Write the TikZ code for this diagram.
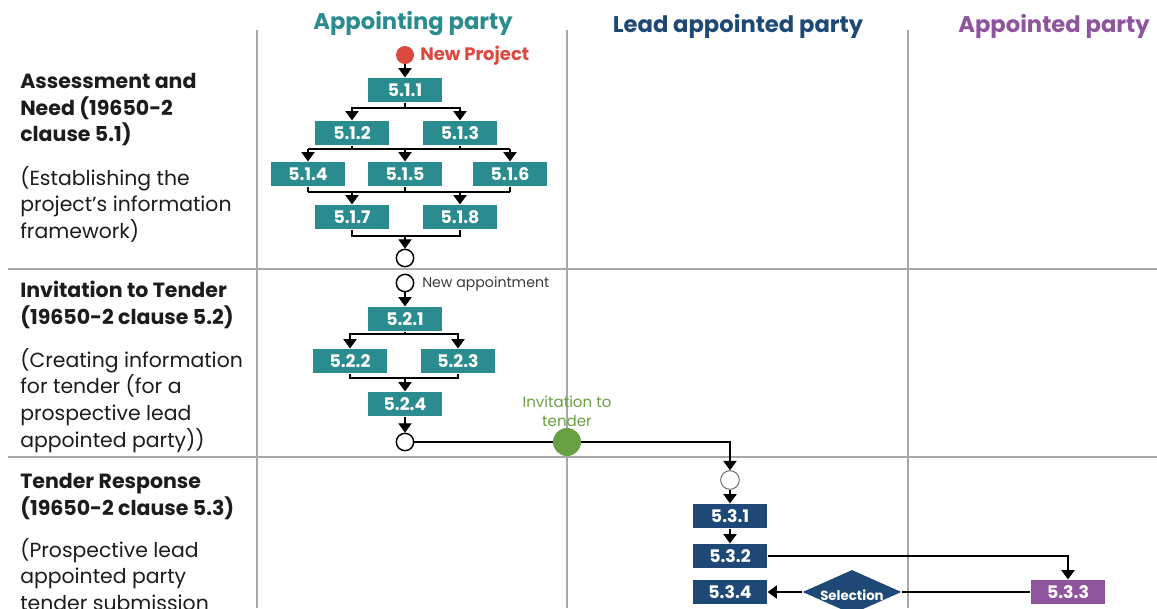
\documentclass[tikz,border=0pt]{standalone}
\usepackage{fontspec}
\setmainfont{Poppins}
\usetikzlibrary{arrows.meta,shapes.geometric}
\definecolor{teal1}{HTML}{2B8C90}
\definecolor{navy1}{HTML}{1E4976}
\definecolor{purp1}{HTML}{8F549E}
\definecolor{red1}{HTML}{DA4A3E}
\definecolor{green1}{HTML}{69A044}
\definecolor{grid1}{HTML}{A8A8A8}
\definecolor{txt1}{HTML}{1C1C1C}
\definecolor{txt2}{HTML}{3A3A3A}
\begin{document}
\begin{tikzpicture}[x=0.75pt,y=-0.75pt,
 box/.style={rectangle, minimum width=56pt, minimum height=18.5pt, inner sep=0pt, text=white, font=\bfseries\fontsize{13}{14}\selectfont},
 tbox/.style={box, fill=teal1},
 nbox/.style={box, fill=navy1},
 pbox/.style={box, fill=purp1},
 endc/.style={circle, draw=black, fill=white, line width=1.1pt, minimum size=13pt, inner sep=0pt},
 arr/.style={-{Triangle[width=10pt,length=7pt]}, line width=0.8pt},
 conn/.style={line width=0.8pt},
 grid/.style={draw=grid1, line width=1.1pt},
 hdr/.style={font=\bfseries\fontsize{17}{20}\selectfont, inner sep=0pt},
 ttl/.style={anchor=north west, align=left, inner sep=0pt, font=\bfseries\fontsize{15.4}{20}\selectfont, text=txt1},
 dsc/.style={anchor=north west, align=left, inner sep=0pt, font=\fontsize{15.3}{20}\selectfont, text=txt1},
]
\useasboundingbox (0,0) rectangle (1157,608);
\clip (0,0) rectangle (1157,608);
\fill[white] (0,0) rectangle (1157,608);

% grid
\draw[grid] (257,30) -- (257,608);
\draw[grid] (567,30) -- (567,608);
\draw[grid] (908,30) -- (908,608);
\draw[grid] (8,269) -- (1157,269);
\draw[grid] (8,457) -- (1157,457);

% headers
\node[hdr, text=teal1] (h1) at (413,24) {Appointing party};
\node[hdr, text=navy1] (h2) at (738,26) {Lead appointed party};
\node[hdr, text=purp1] (h3) at (1054,26) {Appointed party};

% left texts
\node[ttl] (t1) at (20,73) {Assessment and\\Need (19650-2\\clause 5.1)};
\node[dsc] (d1) at (20,166) {(Establishing the\\project's information\\framework)};
\node[ttl] (t2) at (20,281) {Invitation to Tender\\(19650-2 clause 5.2)};
\node[dsc] (d2) at (20,348) {(Creating information\\for tender (for a\\prospective lead\\appointed party))};
\node[ttl] (t3) at (20,473) {Tender Response\\(19650-2 clause 5.3)};
\node[dsc] (d3) at (20,538) {(Prospective lead\\appointed party\\tender submission};

% section 1
\node[circle, fill=red1, minimum size=13.5pt, inner sep=0pt] (np) at (405,55) {};
\node[anchor=west, inner sep=0pt, text=red1, font=\bfseries\fontsize{13.5}{15}\selectfont] (npl) at (420,56) {New Project};
\node[tbox] (b511) at (405,90) {5.1.1};
\node[tbox] (b512) at (352,133) {5.1.2};
\node[tbox] (b513) at (460,133) {5.1.3};
\node[tbox] (b514) at (308,174) {5.1.4};
\node[tbox] (b515) at (405,174) {5.1.5};
\node[tbox] (b516) at (510,174) {5.1.6};
\node[tbox] (b517) at (352,217) {5.1.7};
\node[tbox] (b518) at (460,217) {5.1.8};
\node[endc] (e1) at (405,258) {};

\draw[arr] (np.south) -- (b511.north);
\coordinate (j1) at (405,108);
\draw[conn] (b511.south) -- (j1);
\draw[arr] (j1) -| (b512.north);
\draw[arr] (j1) -| (b513.north);
\coordinate (j2) at (405,149);
\draw[conn] (b512.south) -- (b512.south |- j2);
\draw[conn] (b513.south) -- (b513.south |- j2);
\draw[conn] (b514.north |- j2) -- (b516.north |- j2);
\draw[arr] (b514.north |- j2) -- (b514.north);
\draw[arr] (j2) -- (b515.north);
\draw[arr] (b516.north |- j2) -- (b516.north);
\coordinate (j3) at (405,192);
\draw[conn] (b514.south) -- (b514.south |- j3);
\draw[conn] (b515.south) -- (j3);
\draw[conn] (b516.south) -- (b516.south |- j3);
\draw[conn] (b514.south |- j3) -- (b516.south |- j3);
\draw[arr] (b517.north |- j3) -- (b517.north);
\draw[arr] (b518.north |- j3) -- (b518.north);
\coordinate (j4) at (405,236);
\draw[conn] (b517.south) |- (j4) -| (b518.south);
\draw[arr] (j4) -- (e1.north);

% section 2
\node[endc] (na) at (405,283) {};
\node[anchor=west, inner sep=0pt, text=txt2, font=\fontsize{10.6}{12}\selectfont] (nal) at (422,284) {New appointment};
\node[tbox] (b521) at (405,319) {5.2.1};
\node[tbox] (b522) at (350,361) {5.2.2};
\node[tbox] (b523) at (458,361) {5.2.3};
\node[tbox] (b524) at (405,404) {5.2.4};
\node[endc] (e2) at (405,442) {};
\node[circle, fill=green1, minimum size=21pt, inner sep=0pt] (gc) at (567,442) {};
\node[align=center, inner sep=0pt, text=green1, font=\fontsize{11.3}{14.5}\selectfont] (gcl) at (567,411) {Invitation to\\tender};

\draw[arr] (na.south) -- (b521.north);
\coordinate (k1) at (405,334);
\draw[conn] (b521.south) -- (k1);
\draw[arr] (k1) -| (b522.north);
\draw[arr] (k1) -| (b523.north);
\coordinate (k2) at (405,378);
\draw[conn] (b522.south) |- (k2) -| (b523.south);
\draw[arr] (k2) -- (b524.north);
\draw[arr] (b524.south) -- (e2.north);
\draw[conn] (e2.east) -- (gc.west);

% section 3
\node[circle, draw=black!60, fill=white, line width=0.7pt, minimum size=14pt, inner sep=0pt] (c3) at (730,480) {};
\node[nbox] (b531) at (730,516) {5.3.1};
\node[nbox] (b532) at (730,556) {5.3.2};
\node[nbox] (b534) at (730,592) {5.3.4};
\node[pbox] (b533) at (1068,592) {5.3.3};
\node[diamond, fill=navy1, minimum width=74pt, minimum height=33pt, inner sep=0pt] (sel) at (852,592) {};
\node[text=white, inner sep=0pt, font=\bfseries\fontsize{10}{12}\selectfont] (sell) at (852,595) {Selection};

\draw[arr] (gc.east) -| (c3.north);
\draw[arr] (c3.south) -- (b531.north);
\draw[arr] (b531.south) -- (b532.north);
\draw[arr] (b532.east) -| (b533.north);
\draw[conn] (b533.west) -- (sel.east);
\draw[arr] (sel.west) -- (b534.east);
\end{tikzpicture}
\end{document}
